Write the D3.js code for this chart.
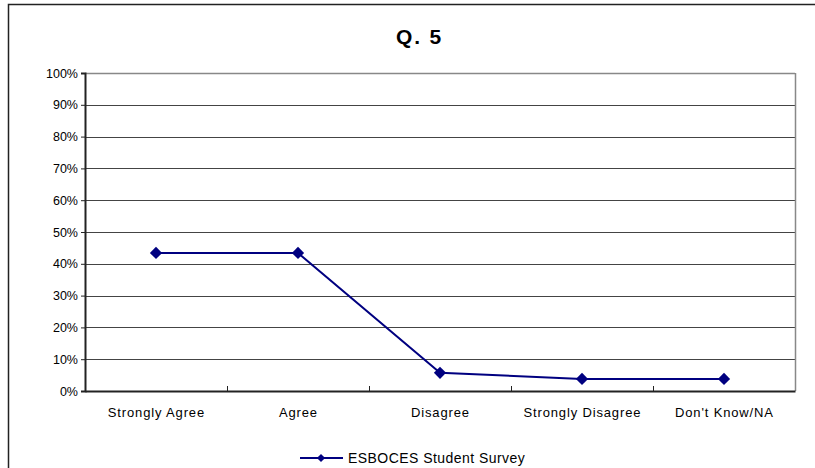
<!DOCTYPE html>
<html><head><meta charset="utf-8">
<script src="https://cdn.jsdelivr.net/npm/d3@7"></script>
<style>body{margin:0;background:#fff}svg{display:block;font-family:Arial,"Liberation Sans",sans-serif}</style>
</head><body><svg id="c" width="815" height="468"></svg>
<script>
const categories = ["Strongly Agree","Agree","Disagree","Strongly Disagree","Don't Know/NA"];
const values = [0.434, 0.434, 0.057, 0.038, 0.038];
const yTicks = [0,0.1,0.2,0.3,0.4,0.5,0.6,0.7,0.8,0.9,1.0];
const seriesName = "ESBOCES Student Survey";
const title = "Q. 5";

const svg = d3.select("#c");
const m = {l:85, t:73, r:795, b:391};
const color = "#000080";
const FF = "Arial, Liberation Sans, sans-serif";

svg.append("rect").attr("x",8.5).attr("y",4.5).attr("width",820).attr("height",480)
  .attr("fill","#fff").attr("stroke","#222").attr("stroke-width",1.5);

const x = d3.scaleBand().domain(categories).range([m.l,m.r]);
const y = d3.scaleLinear().domain([0,1]).range([m.b,m.t]);

// gridlines
svg.append("g").selectAll("line").data(yTicks.slice(1)).join("line")
  .attr("x1",m.l).attr("x2",m.r).attr("y1",d=>Math.round(y(d))+0.5).attr("y2",d=>Math.round(y(d))+0.5)
  .attr("stroke",d=>d===1?"#888":"#444").attr("stroke-width",d=>d===1?1.5:1);
// right border
svg.append("line").attr("x1",m.r+0.5).attr("x2",m.r+0.5).attr("y1",m.t).attr("y2",m.b)
  .attr("stroke","#888").attr("stroke-width",1.5);

// y axis
const ya = svg.append("g").attr("transform",`translate(${m.l},0)`)
  .call(d3.axisLeft(y).tickValues(yTicks).tickFormat(d3.format(".0%")).tickSize(4).tickPadding(3));
ya.select(".domain").attr("stroke","#222").attr("stroke-width",2);
ya.selectAll(".tick line").attr("stroke","#222");
ya.selectAll("text").attr("font-size",12.5).attr("fill","#000").attr("font-family",FF);

// x axis
const xa = svg.append("g").attr("transform",`translate(0,${m.b})`)
  .call(d3.axisBottom(x).tickSize(0).tickPadding(17));
xa.select(".domain").attr("stroke","#222").attr("stroke-width",2);
xa.selectAll("text").attr("font-size",13).attr("fill","#000").attr("font-family",FF)
  .attr("letter-spacing","0.85px").attr("dx","0.4px");
// inner tick marks between categories
svg.append("g").selectAll("line").data(categories.slice(1)).join("line")
  .attr("x1",d=>Math.round(x(d))+0.5).attr("x2",d=>Math.round(x(d))+0.5)
  .attr("y1",m.b).attr("y2",m.b-5).attr("stroke","#222");

// line
const line = d3.line().x((d,i)=>x(categories[i])+x.bandwidth()/2).y(d=>y(d));
svg.append("path").datum(values).attr("d",line).attr("fill","none").attr("stroke",color).attr("stroke-width",2);
svg.append("g").selectAll("path").data(values).join("path")
  .attr("transform",(d,i)=>`translate(${x(categories[i])+x.bandwidth()/2},${y(d)}) rotate(45)`)
  .attr("d",d3.symbol().type(d3.symbolSquare).size(75)).attr("fill",color);

// title
svg.append("text").attr("x",396).attr("y",44)
  .attr("font-size",21).attr("font-weight","bold").attr("letter-spacing","1.8px").text(title);

// legend
svg.append("line").attr("x1",300).attr("x2",343).attr("y1",458).attr("y2",458).attr("stroke",color).attr("stroke-width",2);
svg.append("path").attr("transform","translate(321,458) rotate(45)").attr("d",d3.symbol().type(d3.symbolSquare).size(34)).attr("fill",color);
svg.append("text").attr("x",348).attr("y",463).attr("font-size",14).attr("letter-spacing","0.45px").attr("fill","#000").text(seriesName);
</script></body></html>
